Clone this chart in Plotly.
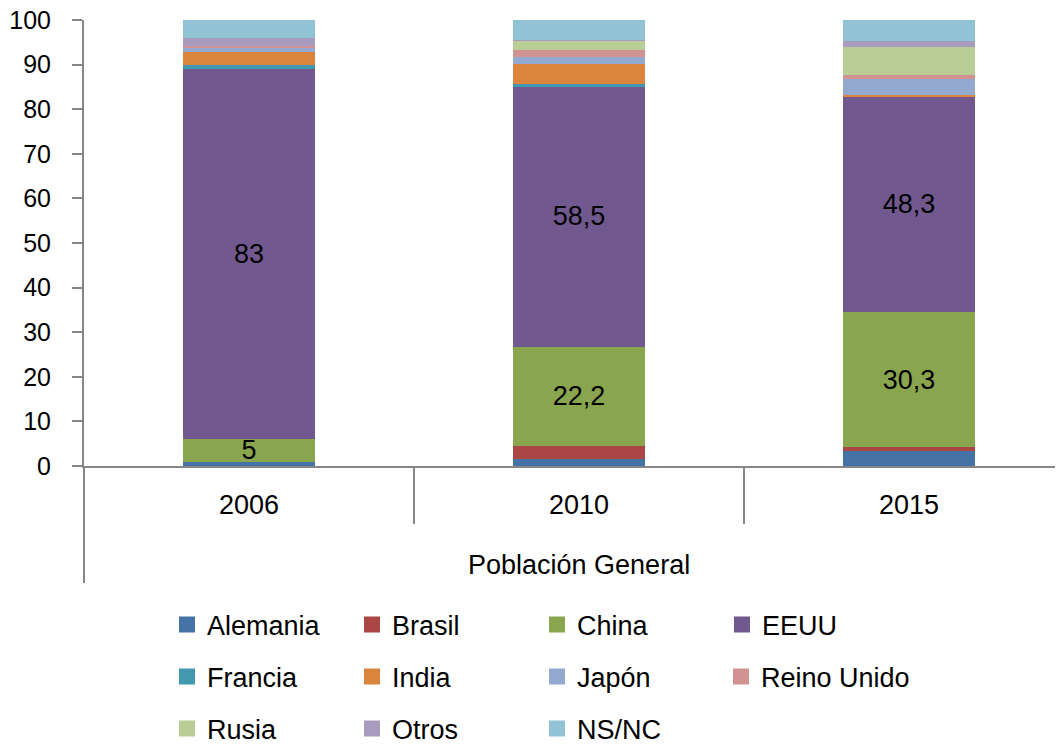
import plotly.graph_objects as go

years = ["2006", "2010", "2015"]
countries = ["Alemania", "Brasil", "China", "EEUU", "Francia", "India",
             "Japón", "Reino Unido", "Rusia", "Otros", "NS/NC"]

alemania = [1.0, 1.5, 3.3]
brasil = [0.0, 3.0, 0.9]
china = [5.0, 22.2, 30.3]
eeuu = [83.0, 58.5, 48.3]
francia = [1.0, 0.4, 0.0]
india = [2.8, 4.6, 0.3]
japon = [1.1, 1.4, 3.7]
reino_unido = [0.2, 1.7, 0.9]
rusia = [0.0, 2.0, 6.2]
otros = [1.9, 0.2, 1.5]
nsnc = [4.0, 4.5, 4.7]

china_labels = ["5", "22,2", "30,3"]
eeuu_labels = ["83", "58,5", "48,3"]

series = [alemania, brasil, china, eeuu, francia, india,
          japon, reino_unido, rusia, otros, nsnc]
colors = ["#4572A7", "#AA4643", "#89A54E", "#71588F", "#4198AF", "#DB843D",
          "#93A9CF", "#D19392", "#B9CD96", "#A99BBD", "#91C3D5"]
labels = {"China": china_labels, "EEUU": eeuu_labels}

# which legend box each entry goes in (rows of four, last one of row 2 apart
# so its long text isn't clipped)
legend_of = ["legend", "legend", "legend", "legend",
             "legend2", "legend2", "legend2", "legend4",
             "legend3", "legend3", "legend3"]

FONT = "Liberation Sans"
AXIS = "#868686"

fig = go.Figure()

for name, vals, col in zip(countries, series, colors):
    fig.add_trace(go.Bar(
        x=years,
        y=vals,
        name=name,
        marker_color=col,
        marker_line_width=0,
        width=0.4,
        text=labels.get(name),
        textposition="inside" if name in labels else "none",
        insidetextanchor="middle",
        textangle=0,
        constraintext="none",
        textfont=dict(family=FONT, size=27, color="black"),
        showlegend=False,
        hoverinfo="name+y",
    ))

for name, col, lg in zip(countries, colors, legend_of):
    fig.add_trace(go.Scatter(
        x=[None], y=[None],
        mode="markers",
        name=name,
        marker=dict(symbol="square", size=16, color=col),
        legend=lg,
        showlegend=True,
    ))

legend_style = dict(
    orientation="h",
    traceorder="normal",
    xref="container", yref="container",
    x=159 / 1063, xanchor="left", yanchor="middle",
    entrywidth=140, entrywidthmode="pixels",
    font=dict(family=FONT, size=27, color="black"),
    bgcolor="rgba(0,0,0,0)",
)

fig.update_layout(
    barmode="stack",
    width=1063,
    height=747,
    margin=dict(l=76, r=0, t=12, b=289),
    plot_bgcolor="white",
    paper_bgcolor="white",
    font=dict(family=FONT, size=27, color="black"),
    legend=dict(legend_style, y=1 - 617 / 747),
    legend2=dict(legend_style, y=1 - 669 / 747),
    legend4=dict(legend_style, y=1 - 669 / 747, x=713 / 1063, entrywidth=200),
    legend3=dict(legend_style, y=1 - 721 / 747),
)

fig.update_xaxes(
    type="category",
    range=[-0.5, 2.491],
    automargin=False,
    showline=True, linecolor=AXIS, linewidth=2,
    ticks="", showgrid=False,
    tickfont=dict(family=FONT, size=27, color="black"),
    ticklabelstandoff=14,
)
fig.update_yaxes(
    range=[0, 100],
    automargin=False,
    ticklabeloverflow="allow",
    tickvals=list(range(0, 101, 10)),
    showline=True, linecolor=AXIS, linewidth=2,
    ticks="outside", ticklen=10, tickcolor=AXIS, tickwidth=2,
    showgrid=False, zeroline=False,
    tickfont=dict(family=FONT, size=25, color="black"),
    ticklabelstandoff=16,
)

# category dividers and the outer axis extension
fig.add_shape(type="line", xref="paper", yref="paper", x0=0, x1=0,
              y0=0, y1=-117 / 446, line=dict(color=AXIS, width=2))
for xd in [0.5, 1.5]:
    fig.add_shape(type="line", xref="x", yref="paper", x0=xd, x1=xd,
                  y0=0, y1=-58 / 446, line=dict(color=AXIS, width=2))

fig.add_annotation(
    text="Población General", xref="x", yref="paper",
    x=1, y=-99 / 446, showarrow=False, yanchor="middle",
    font=dict(family=FONT, size=27, color="black"),
)

fig.write_html("out.html")
